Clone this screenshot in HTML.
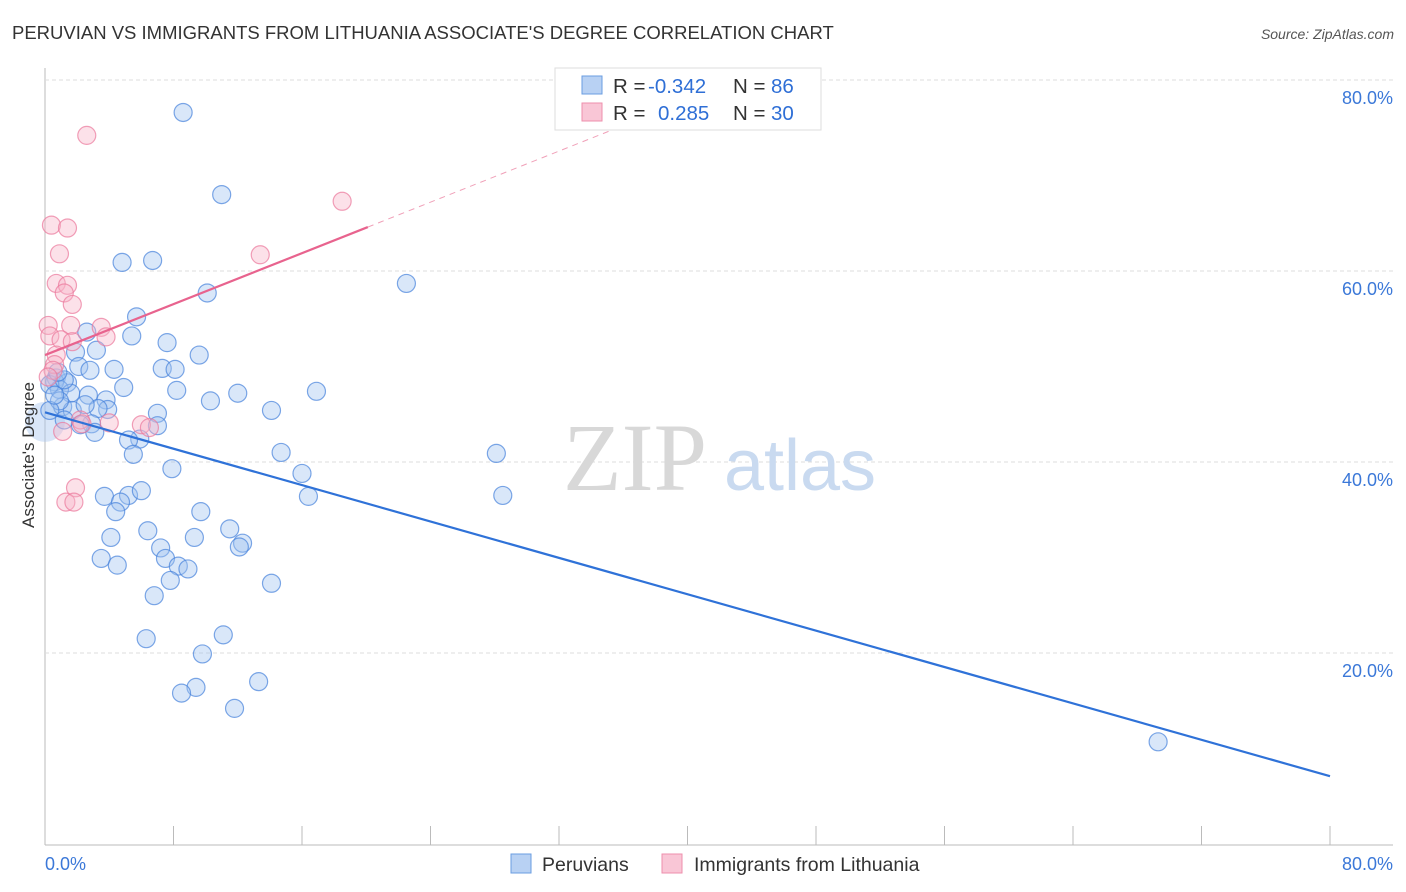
<!DOCTYPE html>
<html><head><meta charset="utf-8"><style>
body{margin:0;background:#fff;font-family:"Liberation Sans",sans-serif;}
svg{display:block}
</style></head><body>
<svg width="1406" height="892">
<text x="12" y="39" font-size="18.5" fill="#333">PERUVIAN VS IMMIGRANTS FROM LITHUANIA ASSOCIATE'S DEGREE CORRELATION CHART</text>
<text x="1394" y="39" font-size="14" fill="#555" font-style="italic" text-anchor="end">Source: ZipAtlas.com</text>
<g id="grid"></g>
<text x="635" y="490" font-size="96" fill="#d8d8d8" font-family="Liberation Serif,serif" text-anchor="middle">ZIP</text>
<text x="800" y="490" font-size="72" fill="#c9daf0" text-anchor="middle">atlas</text>
<g id="pts"></g>
<g id="lines"></g>
<text x="34" y="455" font-size="17" fill="#333" text-anchor="middle" transform="rotate(-90 34 455)">Associate's Degree</text>
<g>
<rect x="555" y="68" width="266" height="62" fill="#fff" stroke="#ddd"/>
<rect x="582" y="76" width="20" height="18" fill="#b8d1f3" stroke="#6a9de0"/>
<rect x="582" y="103" width="20" height="18" fill="#f9c6d6" stroke="#ee8fac"/>
<text x="613" y="93" font-size="20.5" fill="#333">R = <tspan x="648" fill="#2f6fd6">-0.342</tspan><tspan x="733">N = </tspan><tspan x="771" fill="#2f6fd6">86</tspan></text>
<text x="613" y="120" font-size="20.5" fill="#333">R = <tspan x="658" fill="#2f6fd6">0.285</tspan><tspan x="733">N = </tspan><tspan x="771" fill="#2f6fd6">30</tspan></text>
</g>
<g>
<rect x="511" y="854" width="20" height="19" fill="#b8d1f3" stroke="#6a9de0"/>
<text x="542" y="871" font-size="19.5" fill="#333">Peruvians</text>
<rect x="662" y="854" width="20" height="19" fill="#f9c6d6" stroke="#ee8fac"/>
<text x="694" y="871" font-size="19.5" fill="#333">Immigrants from Lithuania</text>
</g>
<text x="45" y="870" font-size="18" fill="#3b78d8">0.0%</text>
<text x="1393" y="870" font-size="18" fill="#3b78d8" text-anchor="end">80.0%</text>
</svg>
<script>
const yTicks=[20,40,60,80];
const yTickLabels=["20.0%","40.0%","60.0%","80.0%"];
const xTicks=[0,8,16,24,32,40,48,56,64,72,80];
const blueX=[8.6,11.0,4.8,6.7,10.1,22.5,5.7,2.6,5.4,7.6,9.6,3.2,1.9,2.1,4.3,7.3,8.1,0.7,1.4,4.9,8.2,0.6,0.9,1.6,2.7,3.8,3.9,3.3,10.3,12.0,16.9,14.1,7.0,1.1,1.7,0.9,2.9,3.1,7.0,5.9,5.2,5.5,14.7,28.1,7.9,16.0,3.7,5.2,6.0,16.4,28.5,4.7,4.4,9.7,6.4,11.5,12.3,12.1,7.2,4.1,9.3,3.5,7.5,4.5,8.3,8.9,7.8,14.1,6.8,6.3,11.1,9.8,9.4,8.5,13.3,11.8,69.3,0.3,0.3,0.6,1.2,2.5,1.2,2.2,0.8,2.8];
const blueY=[76.6,68.0,60.9,61.1,57.7,58.7,55.2,53.6,53.2,52.5,51.2,51.7,51.5,50.0,49.7,49.8,49.7,48.8,48.3,47.8,47.5,48.4,47.6,47.2,47.0,46.5,45.5,45.6,46.4,47.2,47.4,45.4,45.1,45.8,45.4,46.4,44.0,43.1,43.8,42.4,42.3,40.8,41.0,40.9,39.3,38.8,36.4,36.5,37.0,36.4,36.5,35.8,34.8,34.8,32.8,33.0,31.5,31.1,31.0,32.1,32.1,29.9,29.9,29.2,29.1,28.8,27.6,27.3,26.0,21.5,21.9,19.9,16.4,15.8,17.0,14.2,10.7,45.4,48.1,47.0,48.6,46.0,44.4,43.9,49.4,49.6];
const pinkX=[2.6,0.4,1.4,0.9,18.5,13.4,0.7,1.4,1.2,1.7,0.2,0.3,1.6,3.5,3.8,1.0,1.7,0.7,0.6,0.5,0.2,2.2,2.3,4.0,6.0,1.1,1.9,1.3,1.8,6.5];
const pinkY=[74.2,64.8,64.5,61.8,67.3,61.7,58.7,58.5,57.7,56.5,54.3,53.2,54.3,54.1,53.1,52.8,52.6,51.2,50.2,49.6,48.9,44.4,44.0,44.1,43.9,43.2,37.3,35.8,35.8,43.6];
const blueTrend=[[0,45.2],[80,7.1]];
const pinkTrend=[[0,51.2],[20.1,64.6]];
const pinkTrendExt=[[20.1,64.6],[37,75.9]];
const X=v=>45+v/80*1285, Y=v=>844-v/20*191;
const NS="http://www.w3.org/2000/svg";
function mk(t,a,p){const e=document.createElementNS(NS,t);for(const k in a)e.setAttribute(k,a[k]);p.appendChild(e);return e;}
const g=document.getElementById('grid');
let ax=mk('line',{x1:45,y1:68,x2:45,y2:845,stroke:'#bbb'},g);


let bx=mk('line',{x1:45,y1:845,x2:1393,y2:845,stroke:'#bbb'},g);


yTicks.forEach((t,i)=>{
 const l=mk('line',{x1:45,y1:Y(t),x2:1393,y2:Y(t),stroke:'#ddd','stroke-dasharray':'4 3'},g);
 
 
 const tx=mk('text',{x:1393,y:Y(t)+24,'font-size':18,fill:'#3b78d8','text-anchor':'end'},g);
 tx.textContent=yTickLabels[i];
 
 
});
xTicks.forEach(t=>{
 const l=mk('line',{x1:X(t),y1:826,x2:X(t),y2:845,stroke:'#bbb'},g);
 
 
});
const p=document.getElementById('pts');
let big=mk('circle',{cx:X(0),cy:Y(44.2),r:20,fill:'rgba(170,200,240,0.45)'},p);


blueX.forEach((x,i)=>{
 const c=mk('circle',{cx:X(x),cy:Y(blueY[i]),r:9,fill:'rgba(160,195,240,0.4)',stroke:'rgba(70,130,220,0.7)','stroke-width':1.2},p);
 
 
});
pinkX.forEach((x,i)=>{
 const c=mk('circle',{cx:X(x),cy:Y(pinkY[i]),r:9,fill:'rgba(248,180,200,0.4)',stroke:'rgba(235,120,155,0.7)','stroke-width':1.2},p);
 
 
});
const L=document.getElementById('lines');
let b=mk('line',{x1:X(blueTrend[0][0]),y1:Y(blueTrend[0][1]),x2:X(blueTrend[1][0]),y2:Y(blueTrend[1][1]),stroke:'#2f72d8','stroke-width':2.2},L);


let pk=mk('line',{x1:X(pinkTrend[0][0]),y1:Y(pinkTrend[0][1]),x2:X(pinkTrend[1][0]),y2:Y(pinkTrend[1][1]),stroke:'#e8638e','stroke-width':2.2},L);


let pe=mk('line',{x1:X(pinkTrendExt[0][0]),y1:Y(pinkTrendExt[0][1]),x2:X(pinkTrendExt[1][0]),y2:Y(pinkTrendExt[1][1]),stroke:'#f0a0b8','stroke-width':1,'stroke-dasharray':'6 5'},L);


</script>
</body></html>
